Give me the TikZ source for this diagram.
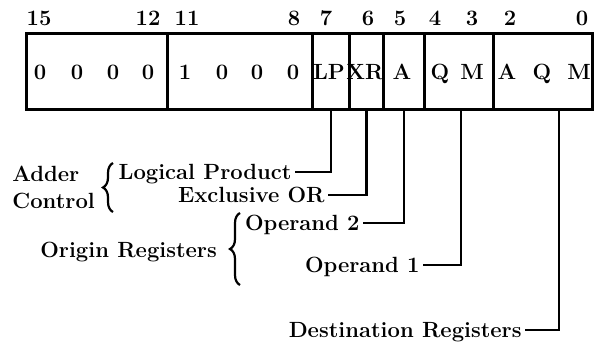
\documentclass[tikz,border=0pt]{standalone}
\usetikzlibrary{positioning,decorations.pathreplacing}

\begin{document}
\begin{tikzpicture}[x=0.5pt,y=-0.5pt,
    every node/.style={font=\fontsize{11}{13}\selectfont\bfseries,inner sep=0pt},
    field/.style={draw,line width=1.4pt,anchor=north west,minimum height=38pt},
    lbl/.style={anchor=east,inner xsep=1.5pt,text height=7pt,text depth=0pt},
    lead/.style={line width=1.4pt},
    curly/.style={decorate,decoration={brace,amplitude=5pt},line width=1.1pt}]
        \fill[white] (0,0) rectangle (597,343);
        \useasboundingbox (0,0) rectangle (597,343);

        % register fields
        \foreach \n/\l/\w in {hi/25/70.5,op/166/72.5,lp/311/18.5,xr/348/17,am/382/20.5,qm/423/34.5,aqm/492/49.5}
          \node[field,minimum width=\w pt] (\n) at (\l,32) {};

        % bit numbers
        \foreach \x/\b in {39/15,148/12,187/11,294/8,326/7,368/6,400/5,435/4,472/3,510/2,582/0}
          \node[anchor=base] (b\b) at (\x,25) {\b};

        % contents
        \foreach \x/\t [count=\i] in {40/0,77/0,113/0,148/0,185/1,222/0,257/0,293/0,329/LP,365/XR,402/A,440/Q,472/M,507/A,542/Q,579/M}
          \node[anchor=base] (c\i) at (\x,79) {\t};

        % labels
        \node[lbl] (lpl) at (295,172) {Logical Product};
        \node[lbl] (xrl) at (328,195) {Exclusive OR};
        \node[lbl] (op2) at (363,223) {Operand 2};
        \node[lbl] (op1) at (423,265) {Operand 1};
        \node[lbl] (dst) at (525,330) {Destination Registers};

        \node[anchor=base west] (adder) at (12,181) {Adder};
        \node[anchor=base west] (ctrl) at (12,208) {Control};
        \node[anchor=base west] (orig) at (40,257) {Origin Registers};

        \draw[curly] (113,212) -- (113,163);
        \draw[curly] (240,285) -- (240,213);

        % leads
        \draw[lead] (lp.south) |- (lpl.east);
        \draw[lead] (xr.south) |- (xrl.east);
        \draw[lead] (am.south) |- (op2.east);
        \draw[lead] ([xshift=1pt]qm.south) |- (op1.east);
        \draw[lead] ([xshift=8pt]aqm.south) |- (dst.east);
      \end{tikzpicture}
\end{document}
